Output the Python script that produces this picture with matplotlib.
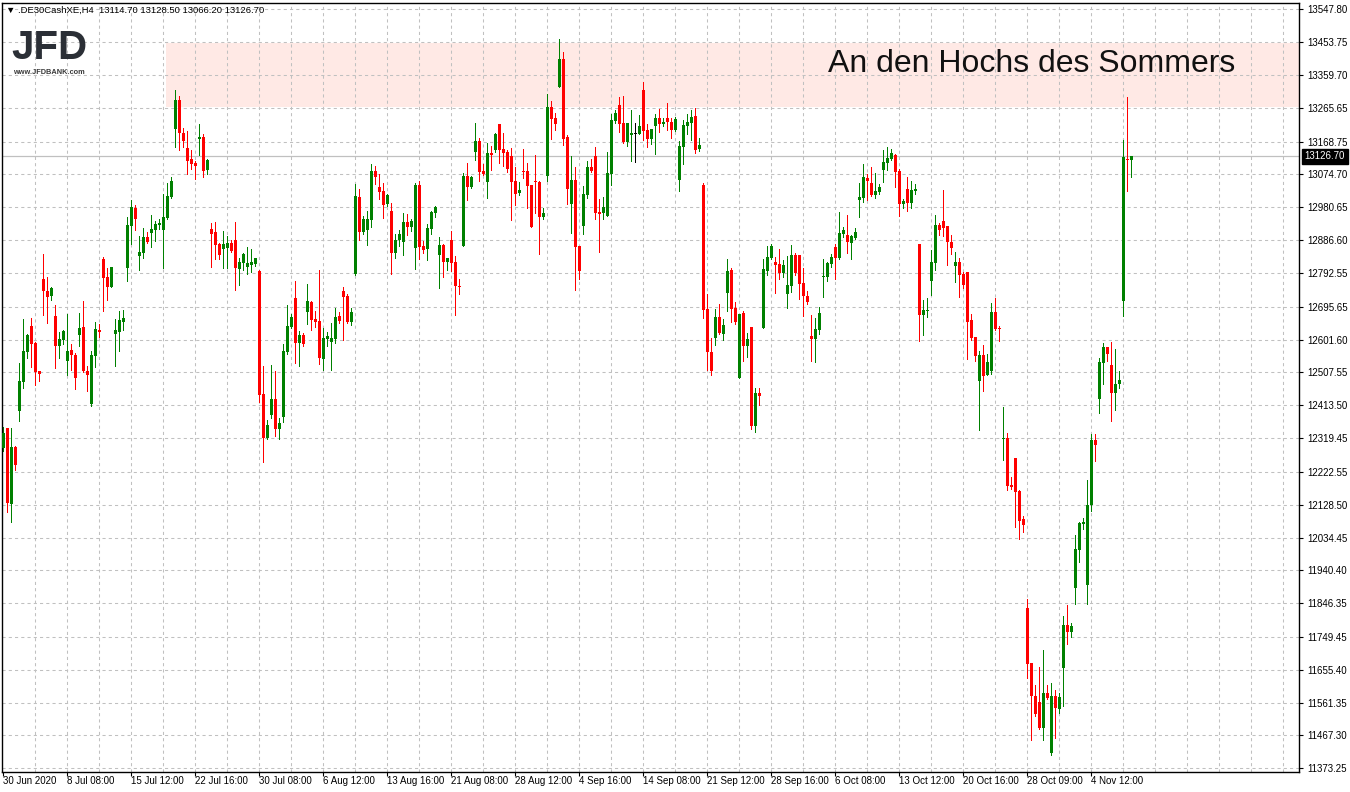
import matplotlib

matplotlib.use("Agg")
import matplotlib.pyplot as plt
from matplotlib.patches import Rectangle

# H4 candles, DE30 CFD, 30 Jun - 5 Nov 2020
OPENS = [
    12292, 12348, 12131, 12295, 12398, 12481, 12567, 12640, 12593, 12512.5,
    12775, 12740.7, 12727, 12669, 12584, 12601, 12541, 12572, 12558, 12615,
    12637.6, 12511.5, 12418, 12555, 12629, 12832, 12781, 12753, 12616.6, 12624,
    12653, 12807.6, 12928, 12979.5, 12842, 12850.5, 12895.4, 12907.8, 12916.4, 12929.8,
    12916.4, 12950.8, 13011, 13205.8, 13287.9, 13192.4, 13150.4, 13118.9, 13108.4, 13177,
    13182, 13088.3, 12918.3, 12909.7, 12875.3, 12860, 12864, 12878.2, 12886.8, 12804.7,
    12821.9, 12810.4, 12816.1, 12819, 12798, 12445.6, 12320.5, 12385.4, 12431.3, 12346.3,
    12380.6, 12566.9, 12638.5, 12720.6, 12592.7, 12614.6, 12681.5, 12709.2, 12660.5, 12654.7,
    12546.8, 12604.1, 12595.5, 12604.1, 12669.1, 12740.7, 12726.4, 12652.8, 12788.4, 13010,
    12910.7, 12915.4, 12945.1, 13084.5, 13038.7, 13027.3, 12991, 12970, 12850.6, 12887.8,
    12882.1, 12938.4, 12925.1, 12864.9, 13044.4, 12869.7, 12862, 12919.3, 12965.2, 12844.9,
    12872.5, 12823.8, 12886.9, 12823.8, 12756, 12870.6, 13070.2, 13038.7, 13139.9, 13170.5,
    13085.5, 13054, 13136.1, 13144.7, 13219.2, 13147.6, 13139, 13127.5, 13055.9, 13022.5,
    13084.6, 13084.6, 13044.4, 13054, 13053, 12953.7, 13071.2, 13267.9, 13236.4, 13326.2,
    13405.4, 13182, 12991, 13058.8, 12869.7, 12927.9, 13016.8, 13096, 13127.5, 12968,
    12965.2, 12956.6, 13076.9, 13228.8, 13273.6, 13222.1, 13168.6, 13188.7, 13192.5, 13191.5,
    13316.6, 13202, 13177.2, 13213.5, 13236.4, 13219.2, 13236.4, 13224.9, 13202, 13058.8,
    13153.3, 13214.4, 13223, 13242.1, 13147.6, 13044.4, 12689.2, 12566, 12606.1, 12666.3,
    12618.5, 12736, 12800.9, 12692.1, 12492.5, 12677.7, 12583.2, 12637.6, 12353.9, 12448.5,
    12634.7, 12798, 12835.2, 12823.8, 12818, 12792.3, 12732.1, 12755, 12843.8, 12843.8,
    12763.6, 12726.4, 12611.8, 12603.2, 12628.9, 12781.7, 12780.8, 12818, 12866.7, 12835.2,
    12904, 12901.1, 12879.2, 12892.5, 13001.4, 13007.1, 13064.4, 13050.1, 13015.7, 13024.3,
    13087.3, 13107.4, 13118.9, 13130.3, 13084.5, 12989.9, 13032.9, 12992.8, 13027.2, 12875.3,
    12671.9, 12684.3, 12769.3, 12820.9, 12929.8, 12941, 12927.5, 12882.2, 12811.2, 12823.4,
    12789.1, 12795.2, 12658, 12610.3, 12482.9, 12557.6, 12498.8, 12511, 12680.1, 12634.8,
    12317.5, 12318.7, 12185.2, 12262.4, 12168, 12087.2, 11832.4, 11675.6, 11580, 11562.9,
    11488.2, 11589.8, 11415.9, 11580, 11544.5, 11659.7, 11783.4, 11763.8, 11890, 11999,
    12073.7, 11899.8, 12128.8, 12312.6, 12432.6, 12535.5, 12580.9, 12528.2, 12447.3, 12473.1,
    12713.2, 13119.9, 13114.7,
]
HIGHS = [
    12352, 12348, 12348, 12297, 12535, 12660.5, 12617.5, 12663, 12595.5, 12512.5,
    12846.7, 12780.8, 12752, 12700.6, 12624, 12628, 12675, 12589, 12564, 12678,
    12712, 12526, 12569, 12652, 12646, 12838, 12806.6, 12809.5, 12660.5, 12683,
    12686, 12952.7, 13001.4, 12987, 12898, 12920, 12909.7, 12958.4, 12942, 12946,
    13018.6, 13050, 13067.3, 13316.6, 13299.4, 13207.7, 13199, 13144.6, 13113, 13219,
    13189.5, 13119.8, 12935.5, 12938.4, 12878.2, 12912.6, 12898.3, 12886.8, 12938.4, 12835.2,
    12849.6, 12866.7, 12861, 12834.3, 12800.8, 12525.8, 12371, 12528.7, 12511.5, 12376.8,
    12588.8, 12700.6, 12674.8, 12769.3, 12626.1, 12620.4, 12760.7, 12712, 12683.4, 12800.8,
    12634.7, 12623.2, 12649, 12692, 12680.5, 12752.1, 12732.1, 12692, 13047.2, 13032.9,
    12955.6, 12969.9, 13104.5, 13098.8, 13076, 13050.2, 13018.7, 12992.9, 12904.1, 12915.5,
    12964.2, 12961.4, 12948, 13050.2, 13055.9, 12884, 12932.7, 12970, 12984.3, 12896.4,
    12875.4, 12835.3, 12913.6, 12842, 12776.1, 13079.8, 13108.4, 13070.2, 13222.1, 13179.1,
    13104.6, 13164.8, 13156.2, 13193.4, 13219.2, 13194.4, 13144.7, 13150.5, 13096, 13053,
    13147.6, 13107.5, 13044.4, 13130.4, 13055.9, 12978.6, 13305.2, 13285.1, 13250.7, 13462.7,
    13425.5, 13188.7, 13127.5, 13096, 12869.7, 13041.6, 13113.2, 13118.9, 13153.3, 13004.3,
    13010.1, 13139, 13247.9, 13259.3, 13296.6, 13299.4, 13222.1, 13259.3, 13222.1, 13245,
    13339.5, 13219.2, 13204.9, 13247.9, 13262.2, 13236.4, 13279.4, 13236.4, 13239.3, 13170.5,
    13230.7, 13247.9, 13259.3, 13265.1, 13179.1, 13050.2, 12732.2, 12606.1, 12689.2, 12703.5,
    12660.5, 12832.4, 12806.7, 12709.2, 12674.9, 12683.5, 12620.4, 12637.6, 12462.8, 12462.8,
    12832.4, 12869.6, 12875.3, 12838.1, 12861, 12829.5, 12841, 12872.5, 12849.6, 12843.8,
    12806.6, 12740.7, 12671.9, 12663.3, 12694.8, 12832.4, 12823.8, 12846.7, 12875.3, 12967,
    12924, 12958.4, 12901.1, 12921.2, 13050.1, 13104.5, 13075.9, 13095.9, 13078.8, 13047.2,
    13144.6, 13153.2, 13147.5, 13133.2, 13090.2, 13004.3, 13067.3, 13055.8, 13047.2, 12875.3,
    12714.9, 12720.6, 12858.1, 12958.4, 12935.5, 13030.4, 12927.5, 12901.8, 12852.8, 12835.7,
    12796.5, 12795.2, 12675.2, 12610.3, 12568.6, 12585.8, 12560, 12707, 12720.5, 12640.9,
    12408.1, 12333.4, 12207.2, 12262.4, 12170.5, 12097, 11858.1, 11675.6, 11611.9, 11663.3,
    11711.1, 11613.1, 11616.8, 11597.2, 11589.8, 11809.1, 11841, 11789.5, 12041.9, 12078.6,
    12089.6, 12198.7, 12332.2, 12332.2, 12550.2, 12591.9, 12580.9, 12594.3, 12574.7, 12511,
    13173.8, 13297.5, 13128.5,
]
LOWS = [
    12282, 12108.5, 12080, 12228, 12369, 12464, 12550, 12524, 12472, 12484,
    12672, 12650, 12716, 12521, 12550, 12590, 12500, 12515, 12461, 12584,
    12508, 12455, 12412, 12524, 12610, 12684, 12716, 12753, 12527, 12570,
    12630, 12770, 12876, 12916.4, 12802, 12834, 12879, 12867.7, 12885, 12919.3,
    12807.6, 12947, 13008, 13154.2, 13145.6, 13154.2, 13075, 13091, 13062.5, 13130,
    13068, 13076.8, 12810.4, 12831.4, 12833.3, 12807.5, 12807.5, 12853.4, 12744.5, 12758.8,
    12801.8, 12790.3, 12796.1, 12813.3, 12423.6, 12251.7, 12317.6, 12376.8, 12326.2, 12317.6,
    12366.3, 12561.1, 12635.6, 12535.4, 12525.8, 12584.1, 12647.1, 12629.9, 12638.5, 12532.5,
    12515.3, 12584.1, 12515.3, 12592.7, 12649, 12601.3, 12649, 12644.2, 12786.5, 12887.8,
    12904.9, 12873.4, 12924, 13048.2, 13005.3, 12950.9, 12985.2, 12790.4, 12836.3, 12870.6,
    12844.9, 12902.2, 12913.6, 12804.7, 12833.4, 12850.6, 12830.5, 12905, 12953.7, 12750.3,
    12781.8, 12801.9, 12799, 12672, 12733.1, 12870.6, 13002.4, 13035.9, 13117, 13056.9,
    13074.1, 13008.2, 13088.4, 13139.9, 13108.4, 13099.8, 13082.6, 12945.1, 12987.1, 13016.8,
    13065.5, 12979.5, 12925.1, 12965.2, 12847.7, 12948, 13056.9, 13177.2, 13203, 13326.2,
    13160, 12991, 12907.9, 12743.6, 12776.1, 12905, 13008.2, 13082.6, 12948, 12853.4,
    12948, 12956.6, 13045.4, 13223, 13197.2, 13165.7, 13157.1, 13114.2, 13111.3, 13189.6,
    13174.3, 13154.3, 13162.9, 13134.2, 13197.2, 13213.5, 13203, 13180.1, 13200.1, 13027.3,
    13105.6, 13191.5, 13174.3, 13137.1, 13142.8, 12663.4, 12515.4, 12501.1, 12586, 12617.6,
    12601.3, 12683.5, 12651.9, 12646.2, 12492.5, 12540.2, 12551.7, 12346.3, 12336.7, 12414.1,
    12634.7, 12786.5, 12832.4, 12735, 12775.1, 12780.8, 12692, 12737.8, 12786.5, 12717.8,
    12669.1, 12703.4, 12540.1, 12537.3, 12617.5, 12723.5, 12769.3, 12809.4, 12775.1, 12832.4,
    12895.4, 12849.6, 12832.4, 12889.7, 12952.7, 12995.7, 13001.4, 13012.9, 13007.1, 13018.6,
    13053, 13087.3, 13116, 13038.6, 12955.6, 12978.5, 12969.9, 12978.5, 13018.6, 12597.4,
    12614.6, 12666.2, 12729.2, 12800.8, 12901.1, 12899.4, 12814.8, 12845.5, 12767.1, 12724.2,
    12748.7, 12545.3, 12600.5, 12540.4, 12342, 12454.7, 12498.8, 12502.5, 12629.9, 12598,
    12257.5, 12171.7, 12172.9, 12063.9, 12030.8, 12051.7, 11631.5, 11455.1, 11522.5, 11485.7,
    11455.1, 11572.7, 11412.2, 11460, 11531, 11550.6, 11728.3, 11750.3, 11844.6, 11963.5,
    12059, 11844.6, 12110.5, 12255, 12391, 12474.3, 12540.4, 12367.7, 12400.8, 12462,
    12667.8, 13028, 13066.2,
]
CLOSES = [
    12333, 12134, 12294, 12242, 12483, 12569, 12615, 12589, 12508.6, 12502,
    12741.7, 12724.5, 12749, 12584, 12603, 12625, 12569, 12558, 12492, 12635,
    12511.5, 12501, 12557, 12632, 12624, 12779, 12753, 12809.5, 12629, 12657.6,
    12663, 12929.8, 12981.4, 12948, 12852.4, 12895.4, 12882, 12918.3, 12932.7, 12936.5,
    12952.7, 13012.9, 13054.9, 13287.9, 13194.3, 13171.4, 13114, 13105.5, 13099.8, 13182,
    13085.4, 13116, 12905, 12873.4, 12844.8, 12875.3, 12878.2, 12855.3, 12807.5, 12823.8,
    12846.7, 12820.9, 12823.8, 12834.3, 12443.7, 12320.5, 12356.8, 12431.3, 12346.3, 12362.5,
    12568.8, 12640.4, 12666.2, 12592.7, 12614.6, 12589.8, 12712, 12658.6, 12652.8, 12549.7,
    12606, 12611.8, 12606, 12666.2, 12655.7, 12724.4, 12651.9, 12680.5, 13012.9, 12910.7,
    12947, 12947, 13084.5, 13068.2, 13025.3, 12988.1, 13015.8, 12850.6, 12886.9, 12904.1,
    12938.4, 12925.1, 12941.3, 13044.4, 12867.8, 12859.2, 12921.3, 12967.1, 12981.4, 12872.5,
    12823.8, 12835.3, 12821.9, 12756, 12753.2, 13070.2, 13038.7, 13067.4, 13170.5, 13082.6,
    13076.9, 13136.1, 13131.4, 13190.6, 13144.7, 13137.1, 13090.3, 13054, 13019.6, 13031.1,
    13082.6, 13042.5, 12925.1, 13052.1, 12953.7, 12965.2, 13267.9, 13234.5, 13220.2, 13405.4,
    13177.2, 13033.9, 13058.8, 12867.8, 12799, 13018.7, 13096, 13085.5, 12965.2, 12962.3,
    12981.4, 13078.8, 13230.7, 13250.7, 13220.2, 13168.6, 13222.1, 13193.4, 13192.5, 13213.5,
    13200.1, 13177.2, 13204.9, 13236.4, 13219.2, 13224.9, 13224.9, 13202, 13233.5, 13156.2,
    13216.3, 13224.9, 13239.3, 13144.7, 13159, 12686.3, 12566.9, 12512.5, 12666.3, 12620.4,
    12643.3, 12798.1, 12689.2, 12651.9, 12674.9, 12583.2, 12603.2, 12354.9, 12448.5, 12439.9,
    12803.7, 12838.1, 12869.6, 12815.2, 12792.3, 12815.2, 12757.9, 12843.8, 12792.3, 12760.7,
    12726.4, 12709.2, 12603.2, 12631.8, 12677.7, 12783.7, 12820.9, 12838.1, 12835.2, 12906.9,
    12915.4, 12881.1, 12898.3, 12909.7, 13010, 13067.3, 13055.8, 13015.7, 13027.2, 13038.6,
    13110.3, 13121.7, 13136.1, 13081.6, 12989.9, 12998.5, 12992.8, 13030, 13032.9, 12671.9,
    12686.2, 12686.2, 12823.8, 12929.8, 12915.4, 12922.6, 12879.8, 12865.1, 12823.4, 12787.9,
    12758.5, 12653.1, 12606.6, 12555.1, 12557.6, 12497.6, 12536.8, 12680.1, 12632.3, 12631.1,
    12319.9, 12181.5, 12179.1, 12165.6, 12082.3, 12071.3, 11673.1, 11581.3, 11528.6, 11488.2,
    11589.8, 11573.9, 11580, 11547, 11576.4, 11783.4, 11763.8, 11780.9, 12001.4, 12076.2,
    12078.6, 12128.8, 12312.6, 12300.3, 12536.8, 12580.9, 12561.3, 12447.3, 12474.3, 12485.3,
    13124.8, 13116.2, 13126.7,
]

DATE_LABELS = [
    "30 Jun 2020", "8 Jul 08:00", "15 Jul 12:00", "22 Jul 16:00", "30 Jul 08:00",
    "6 Aug 12:00", "13 Aug 16:00", "21 Aug 08:00", "28 Aug 12:00", "4 Sep 16:00",
    "14 Sep 08:00", "21 Sep 12:00", "28 Sep 16:00", "6 Oct 08:00", "13 Oct 12:00",
    "20 Oct 16:00", "28 Oct 09:00", "4 Nov 12:00",
]
BARS_PER_LABEL = 16

PRICE_TICKS = [
    13547.80, 13453.75, 13359.70, 13265.65, 13168.75, 13074.70, 12980.65, 12886.60,
    12792.55, 12695.65, 12601.60, 12507.55, 12413.50, 12319.45, 12222.55, 12128.50,
    12034.45, 11940.40, 11846.35, 11749.45, 11655.40, 11561.35, 11467.30, 11373.25,
]

SYMBOL = ".DE30CashXE,H4"
LAST_PRICE = 13126.70
ZONE_LOW, ZONE_HIGH = 13267, 13451
ZONE_START = 40.6
ZONE_TEXT = "An den Hochs des Sommers"

UP, DOWN, FLAT = "#008000", "#ff0000", "#000000"
GRID = "#c0c0c0"
FONT = ["Liberation Sans", "DejaVu Sans"]

W, H = 1350, 792
fig = plt.figure(figsize=(W / 100, H / 100), dpi=100)
fig.patch.set_facecolor("white")
ax = fig.add_axes([2.3 / W, 1 - 771.5 / H, 1296.2 / W, 769 / H])
ax.set_xlim(-0.26, 323.8)
ax.set_ylim(11364.1, 13567.3)

# resistance zone
ax.add_patch(Rectangle((ZONE_START, ZONE_LOW), 400, ZONE_HIGH - ZONE_LOW,
                       facecolor="#ffe9e5", edgecolor="none", zorder=0))
ax.text(206.2, 13392, ZONE_TEXT, fontsize=23, family=FONT, color="#111111",
        va="center", ha="left", zorder=4)

# dashed grid
for p in PRICE_TICKS:
    ax.axhline(p, color=GRID, lw=0.75, ls=(0, (3, 3)), zorder=1)
for gx in range(8, 324, 8):
    ax.axvline(gx, color=GRID, lw=0.75, ls=(0, (3, 3)), zorder=1)

ax.axhline(LAST_PRICE, color=GRID, lw=0.9, zorder=1.5)

# candles
xs = list(range(len(OPENS)))
colors = [UP if c > o else DOWN if c < o else FLAT for o, c in zip(OPENS, CLOSES)]
heights = [max(abs(c - o), 2.9) for o, c in zip(OPENS, CLOSES)]
bottoms = [(o + c) / 2 - h / 2 for o, c, h in zip(OPENS, CLOSES, heights)]
ax.vlines(xs, LOWS, HIGHS, colors=colors, lw=0.6, antialiased=False, zorder=2)
ax.bar(xs, heights, bottom=bottoms, width=0.7, color=colors, linewidth=0,
       antialiased=False, zorder=3)

# axes styling
for side in ("left", "right", "top", "bottom"):
    ax.spines[side].set_color("black")
    ax.spines[side].set_linewidth(1.0)

ax.yaxis.tick_right()
ax.set_yticks(PRICE_TICKS)
ax.set_yticklabels([f"{p:.2f}" for p in PRICE_TICKS])
ax.tick_params(axis="y", which="both", length=3, width=0.8, pad=3, labelsize=7,
               colors="black")
ax.set_xticks([k * BARS_PER_LABEL for k in range(len(DATE_LABELS))])
ax.set_xticklabels(DATE_LABELS)
ax.tick_params(axis="x", length=3, width=0.8, pad=0.5, labelsize=7, colors="black")
for lab in ax.get_xticklabels() + ax.get_yticklabels():
    lab.set_family(FONT)
for lab in ax.get_xticklabels():
    lab.set_horizontalalignment("left")

# last price marker on the price scale
ax.annotate(f"{LAST_PRICE:.2f}", xy=(1, LAST_PRICE), xycoords=("axes fraction", "data"),
            xytext=(4.5, 0), textcoords="offset points", va="center", ha="left",
            fontsize=7, family=FONT, color="white", annotation_clip=False,
            bbox=dict(boxstyle="square,pad=0.28", fc="black", ec="black"))

# header line and broker logo
fig.text(6 / W, 1 - 10.5 / H, f"\u25bc {SYMBOL}  13114.70 13128.50 13066.20 13126.70",
         fontsize=6.8, family=FONT, va="center", ha="left")
fig.text(11 / W, 1 - 59 / H, "JFD", fontsize=29, fontweight="bold", family=FONT,
         color="#2b2f36", va="baseline", ha="left")
fig.text(13 / W, 1 - 72 / H, "www.JFDBANK.com", fontsize=5.3, fontweight="bold",
         family=FONT, color="#3a3a3a", va="center", ha="left")

fig.savefig("out.png", dpi=100)
